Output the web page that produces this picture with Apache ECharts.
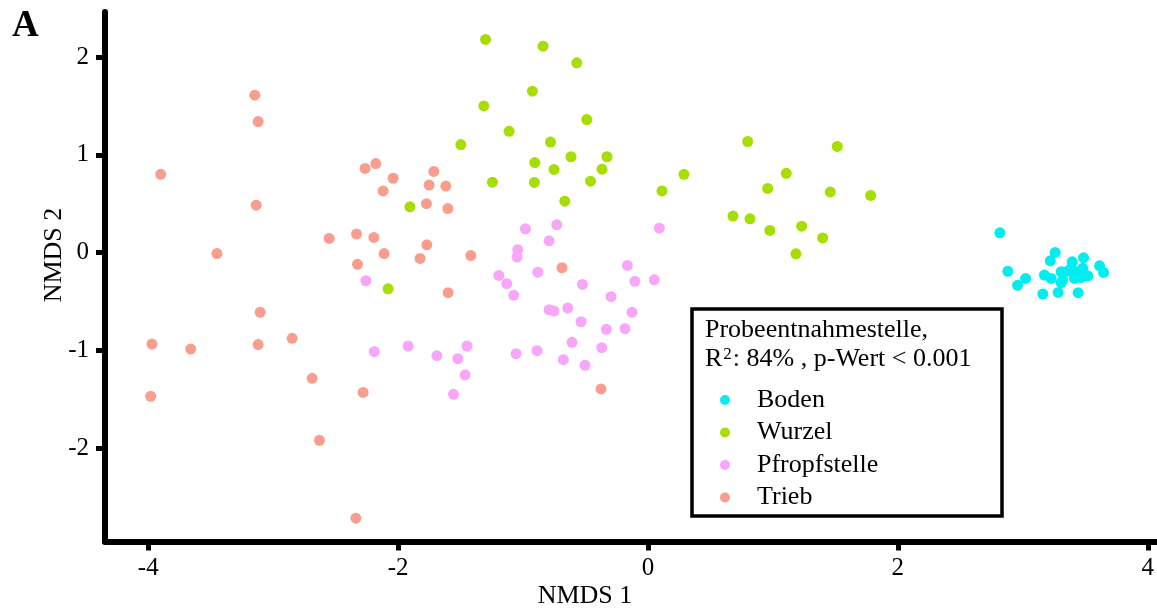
<!DOCTYPE html>
<html>
<head>
<meta charset="utf-8">
<script src="https://cdn.jsdelivr.net/npm/echarts@6/dist/echarts.min.js"></script>
<style>html,body{margin:0;padding:0;background:#fff}#c{width:1157px;height:610px}</style>
</head>
<body>
<div id="c"></div>
<script>
const groupNames = ['Boden', 'Wurzel', 'Pfropfstelle', 'Trieb'];
const groupColors = ['#00EEF0', '#A5DE00', '#F7A6FA', '#F99D8E'];
const xTicks = [-4, -2, 0, 2, 4];
const yTicks = [-2, -1, 0, 1, 2];

const boden = [[2.816,0.202],[2.88,-0.192],[2.958,-0.335],[3.022,-0.264],[3.259,0.002],[3.22,-0.084],[3.395,-0.094],[3.486,-0.053],[3.614,-0.135],[3.646,-0.203],[3.173,-0.23],[3.227,-0.264],[3.307,-0.196],[3.36,-0.189],[3.427,-0.196],[3.48,-0.161],[3.52,-0.237],[3.32,-0.281],[3.413,-0.264],[3.467,-0.257],[3.307,-0.308],[3.16,-0.424],[3.283,-0.407],[3.443,-0.41],[3.387,-0.161]];
const wurzel = [[-1.30,2.18],[-0.84,2.11],[-0.57,1.94],[-0.925,1.65],[-1.314,1.50],[-0.49,1.36],[-1.112,1.24],[-1.498,1.105],[-0.78,1.13],[-0.906,0.92],[-0.616,0.98],[-0.328,0.98],[-0.752,0.85],[-0.368,0.853],[-1.245,0.72],[-0.909,0.717],[-0.46,0.73],[-0.666,0.526],[-1.906,0.468],[-2.08,-0.37],[0.288,0.80],[0.112,0.63],[0.798,1.136],[0.958,0.656],[0.68,0.373],[0.816,0.345],[0.976,0.227],[1.515,1.085],[1.107,0.81],[1.459,0.62],[1.782,0.584],[1.23,0.27],[1.398,0.15],[1.184,-0.012]];
const pfropfstelle = [[-2.258,-0.288],[-0.981,0.243],[-0.73,0.284],[-0.792,0.12],[-1.042,0.029],[-1.048,-0.046],[0.091,0.25],[-0.165,-0.131],[-1.194,-0.233],[-0.882,-0.2],[-1.13,-0.318],[-0.525,-0.325],[-0.104,-0.294],[0.051,-0.278],[-1.074,-0.437],[-0.296,-0.451],[-0.792,-0.584],[-0.752,-0.598],[-0.642,-0.567],[-0.536,-0.707],[-0.128,-0.611],[-0.333,-0.785],[-0.184,-0.778],[-0.608,-0.917],[-0.37,-0.972],[-0.677,-1.095],[-0.504,-1.152],[-1.056,-1.034],[-0.888,-1.003],[-1.92,-0.955],[-1.69,-1.054],[-1.448,-0.955],[-1.522,-1.085],[-1.464,-1.251],[-1.557,-1.449],[-2.19,-1.013]];
const trieb = [[-3.147,1.61],[-3.12,1.34],[-3.90,0.80],[-3.136,0.485],[-3.45,-0.01],[-2.264,0.86],[-2.178,0.91],[-2.04,0.76],[-2.12,0.63],[-2.552,0.145],[-2.333,0.19],[-2.194,0.155],[-2.112,-0.01],[-2.325,-0.12],[-3.104,-0.61],[-3.97,-0.935],[-3.66,-0.986],[-3.12,-0.94],[-2.848,-0.876],[-2.688,-1.285],[-2.28,-1.43],[-3.98,-1.47],[-2.63,-1.92],[-2.338,-2.715],[-1.714,0.83],[-1.752,0.69],[-1.618,0.68],[-1.773,0.50],[-1.602,0.45],[-1.77,0.08],[-1.824,-0.06],[-1.418,-0.03],[-1.6,-0.41],[-0.688,-0.155],[-0.376,-1.394]];

const groupData = [boden, wurzel, pfropfstelle, trieb];
const FONT = '"Liberation Serif", "DejaVu Serif", serif';

const chart = echarts.init(document.getElementById('c'), null, {renderer: 'canvas'});

const axisCommon = {
  type: 'value',
  splitLine: {show: false},
  axisLine: {show: true, onZero: false, lineStyle: {color: '#000', width: 6}},
  axisTick: {show: true, length: 9, lineStyle: {color: '#000', width: 5}},
  axisLabel: {color: '#000', fontFamily: FONT, fontSize: 25}
};

chart.setOption({
  animation: false,
  backgroundColor: '#fff',
  grid: {left: 105, right: 0, top: 12, bottom: 68.5, containLabel: false},
  xAxis: Object.assign({}, axisCommon, {
    min: -4.346, max: 4.07,
    axisTick: Object.assign({}, axisCommon.axisTick, {customValues: xTicks}),
    axisLabel: Object.assign({}, axisCommon.axisLabel, {customValues: xTicks, margin: 14})
  }),
  yAxis: Object.assign({}, axisCommon, {
    min: -2.954, max: 2.46,
    axisTick: Object.assign({}, axisCommon.axisTick, {customValues: yTicks}),
    axisLabel: Object.assign({}, axisCommon.axisLabel, {customValues: yTicks, margin: 16})
  }),
  legend: {
    data: groupNames,
    orient: 'vertical',
    left: 720, top: 387,
    padding: 0,
    itemWidth: 10, itemHeight: 10, itemGap: 6.5,
    icon: 'circle',
    textStyle: {color: '#000', fontFamily: FONT, fontSize: 26, lineHeight: 26, padding: [0, 0, 0, 22]},
    selectedMode: false,
    z: 10
  },
  graphic: [
    {type: 'rect', z: 5, shape: {x: 692, y: 309, width: 310, height: 207},
     style: {fill: '#fff', stroke: '#000', lineWidth: 3.5}},
    {type: 'text', z: 6, x: 705, y: 330.4,
     style: {text: 'Probeentnahmestelle,', fontFamily: FONT, fontSize: 26, fill: '#000', verticalAlign: 'middle', align: 'left'}},
    {type: 'text', z: 6, x: 705, y: 358.8,
     style: {text: '{r|R}{s|2}{r|: 84% , p-Wert < 0.001}', fill: '#000', verticalAlign: 'middle', align: 'left',
       rich: {r: {fontFamily: FONT, fontSize: 26, lineHeight: 26, fill: '#000'},
              s: {fontFamily: FONT, fontSize: 17, lineHeight: 17, padding: [0, 1, 9, 1], verticalAlign: 'middle', fill: '#000'}}}},
    {type: 'text', x: 12, y: 26.2,
     style: {text: 'A', fontFamily: FONT, fontWeight: 'bold', fontSize: 37, fill: '#000', verticalAlign: 'middle', align: 'left'}},
    {type: 'text', x: 585, y: 596.4,
     style: {text: 'NMDS 1', fontFamily: FONT, fontSize: 26, fill: '#000', verticalAlign: 'middle', align: 'center'}},
    {type: 'text', x: 53.8, y: 255, rotation: Math.PI / 2,
     style: {text: 'NMDS 2', fontFamily: FONT, fontSize: 26, fill: '#000', verticalAlign: 'middle', align: 'center'}}
  ],
  series: groupNames.map((name, i) => ({
    name: name,
    type: 'scatter',
    data: groupData[i],
    symbol: 'circle',
    symbolSize: 11,
    itemStyle: {color: groupColors[i], opacity: 1},
    emphasis: {disabled: true}
  }))
});
</script>
</body>
</html>
